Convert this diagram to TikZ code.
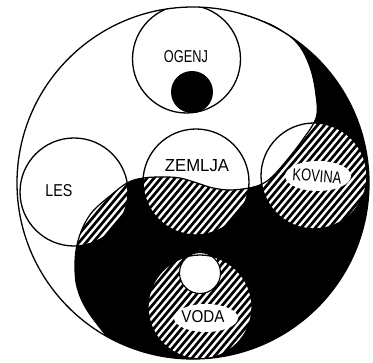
\documentclass[tikz,border=0pt]{standalone}
\usepackage{fontspec}
\setmainfont{Liberation Sans}
\usetikzlibrary{calc}
\tikzset{
  outline/.style={draw=black, line width=1.3pt},
  lbl/.style={inner sep=0pt, font=\fontsize{17}{17}\selectfont},
}
\def\SCurve{plot[smooth,tension=0.6] coordinates {(239.7,13.3) (273,25) (297,43) (310,67) (316,95) (316,118) (301,142) (287,160) (273,176) (262,184) (249,188) (230,190) (213,188) (197,183) (180,178) (163,177) (143,178) (127,183) (110,196) (93,211) (83,227) (77,245) (75,264) (77,287) (87,310) (107.1,336.7)}}
\def\BlackPath{\SCurve arc[start angle=119.2, end angle=-74.6, radius=176] -- cycle}
\newcommand\HatchLines{\foreach \k in {-46,...,55} {\draw[line width=2.7pt] (\k*7,370) -- ++(310.5,-370);}}
\begin{document}
\begin{tikzpicture}[x=1pt,y=1pt,yscale=-1]
\useasboundingbox (0,0) rectangle (373,363);
\fill[white] (0,0) rectangle (373,363);
\coordinate (O) at (193,183);
\coordinate (cF) at (186.5,59);
\coordinate (cE) at (196,182);
\coordinate (cW) at (74,192);
\coordinate (cM) at (314,176);
\coordinate (cV) at (200,307);
\coordinate (dotF) at (192,92);
\coordinate (dotV) at (200,273);
% black half
\fill[black] \BlackPath;
% hatched overlaps
\foreach \c/\r in {cW/54, cE/53, cM/53, cV/52} {
  \begin{scope}
    \clip (\c) circle[radius=\r];
    \clip \BlackPath;
    \fill[white] (0,0) rectangle (373,363);
    \HatchLines
  \end{scope}
}
% white spots
\fill[white] (dotV) circle[radius=20.5];
\fill[white] (206,318) ellipse[x radius=32, y radius=14];
\begin{scope}
  \clip (cM) circle[radius=53];
  \fill[white] (318,176) ellipse[x radius=33, y radius=15];
\end{scope}
% outlines
\begin{scope}
  \clip (O) circle[radius=176];
  \draw[outline] (cF) circle[radius=54];
  \draw[outline] (cW) circle[radius=54];
  \draw[outline] (cE) circle[radius=53];
  \draw[outline] (cM) circle[radius=53];
  \draw[outline] (cV) circle[radius=52];
  \draw[line width=1.1pt] (dotV) circle[radius=20.5];
  \draw[line width=1.2pt] \SCurve;
\end{scope}
\draw[outline] (O) circle[radius=176];
\fill[black] (dotF) circle[radius=21];
% labels
\node[lbl] (ogenj) at (186,57) {\resizebox{44pt}{12pt}{OGENJ}};
\node[lbl] (zemlja) at (197,166) {\resizebox{64pt}{12pt}{ZEMLJA}};
\node[lbl] (les) at (59,191) {\resizebox{27pt}{12pt}{LES}};
\node[lbl, rotate=-4] (kovina) at (317,176) {\resizebox{49pt}{12pt}{KOVINA}};
\node[lbl] (voda) at (203,317) {\resizebox{43pt}{12pt}{VODA}};
\end{tikzpicture}
\end{document}
